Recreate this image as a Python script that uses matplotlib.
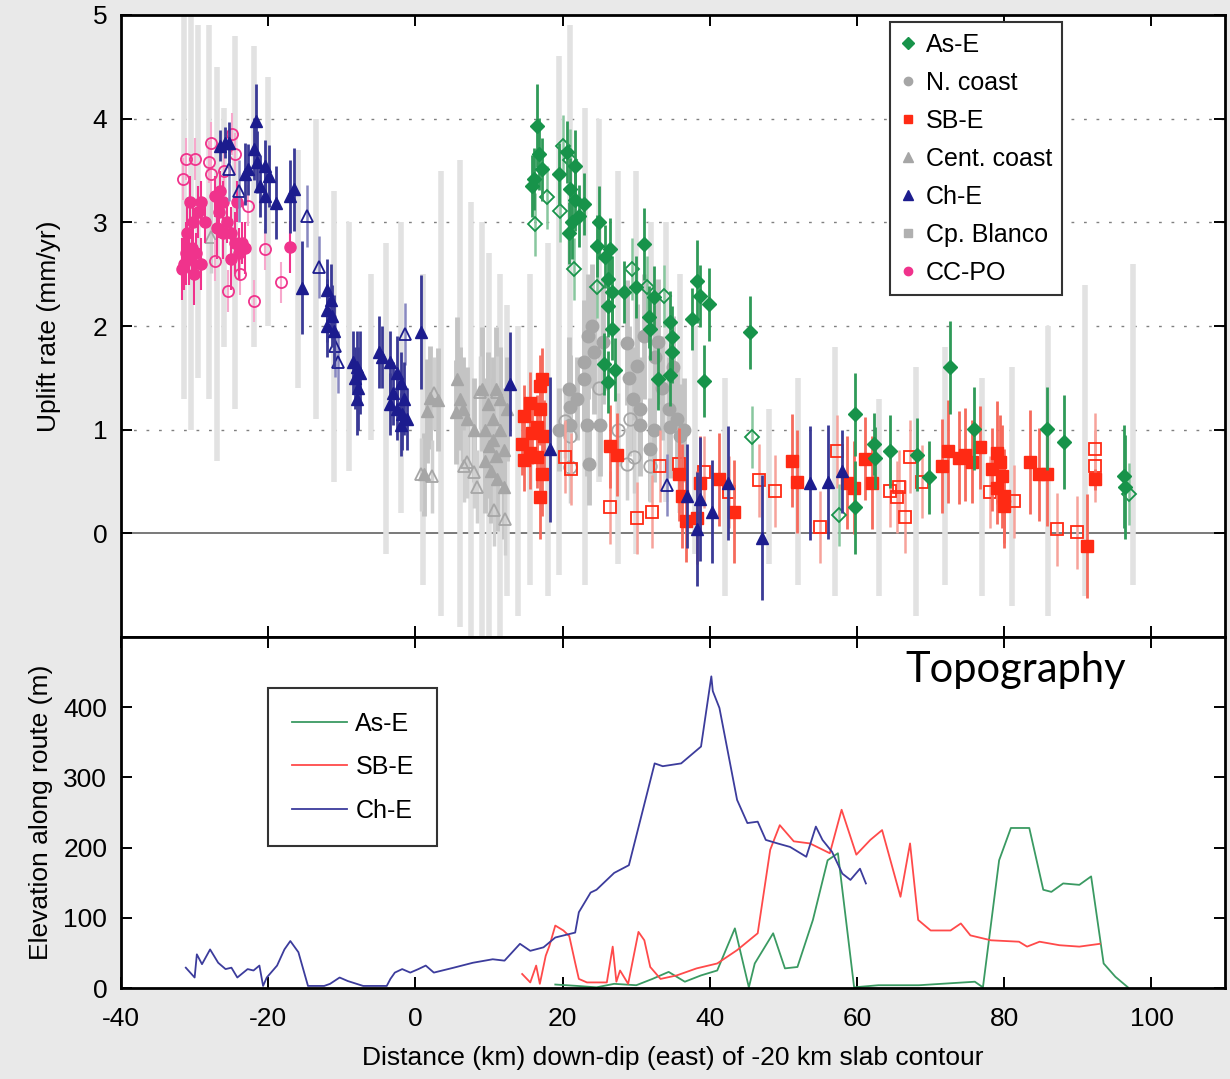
import numpy as np
import matplotlib
matplotlib.use('Agg')
import matplotlib.pyplot as plt
from matplotlib.lines import Line2D

plt.rcParams['font.family'] = ['Liberation Sans', 'DejaVu Sans']
plt.rcParams['axes.unicode_minus'] = False

# ---- uplift rates (km, mm/yr, +/- err) ----
# As-E
ase_x = [16.5, 16.8, 17.2, 16.1, 15.9, 19.5, 20.6, 21.7, 21.0, 21.7, 22.9, 21.3, 20.9, 22.2, 25.0, 24.7, 25.8, 26.5,
         26.1, 26.7, 26.1, 26.7, 25.6, 27.1, 26.1, 28.4, 31.0, 29.9, 32.4, 31.7, 31.9, 34.6, 34.9, 34.9, 34.6, 32.9,
         38.3, 38.6, 39.9, 37.6, 39.2, 45.5, 59.7, 62.3, 62.4, 64.5, 68.1, 69.8, 59.7, 72.6, 75.9, 85.8, 88.1, 96.2, 96.4]
ase_y = [3.93, 3.66, 3.51, 3.42, 3.35, 3.47, 3.68, 3.54, 3.32, 3.22, 3.18, 3.0, 2.9, 3.06, 3.0, 2.77, 2.67, 2.74,
         2.45, 2.33, 2.19, 1.97, 1.63, 1.58, 1.46, 2.33, 2.79, 2.38, 2.28, 2.09, 1.97, 2.04, 1.89, 1.75, 1.53, 1.49,
         2.43, 2.29, 2.21, 2.07, 1.47, 1.94, 1.15, 0.86, 0.73, 0.79, 0.76, 0.54, 0.25, 1.6, 1.01, 1.01, 0.88, 0.55, 0.45]
ase_e = [0.4, 0.35, 0.3, 0.3, 0.3, 0.3, 0.3, 0.35, 0.3, 0.3, 0.3, 0.35, 0.3, 0.3, 0.35, 0.3, 0.3, 0.3,
         0.3, 0.35, 0.3, 0.3, 0.3, 0.3, 0.3, 0.3, 0.35, 0.3, 0.3, 0.3, 0.3, 0.3, 0.3, 0.3, 0.3, 0.3,
         0.4, 0.3, 0.35, 0.3, 0.35, 0.35, 0.4, 0.3, 0.3, 0.35, 0.35, 0.35, 0.45, 0.45, 0.4, 0.4, 0.45, 0.5, 0.5]
ase_open_x = [16.3, 17.9, 20.0, 19.7, 21.5, 29.4, 31.5, 24.7, 33.8, 45.7, 57.6, 97.0, 21.0]
ase_open_y = [2.98, 3.24, 3.74, 3.11, 2.55, 2.55, 2.38, 2.38, 2.29, 0.93, 0.18, 0.38, 3.6]

# SB-E
sbe_x = [17.2, 16.9, 15.6, 16.9, 14.8, 16.5, 17.5, 14.5, 15.6, 14.8, 16.5, 17.2, 16.9, 15.9, 26.5, 27.4, 35.8, 36.2,
         36.7, 38.3, 38.6, 41.3, 43.3, 51.2, 51.9, 58.6, 59.6, 61.1, 62.0, 71.5, 72.4, 73.8, 74.6, 75.6, 76.7, 78.3,
         79.0, 79.4, 79.7, 79.9, 79.0, 79.9, 83.5, 84.7, 85.8, 92.3, 91.2]
sbe_y = [1.49, 1.42, 1.26, 1.2, 1.13, 1.03, 0.94, 0.86, 0.78, 0.71, 0.74, 0.57, 0.35, 0.97, 0.84, 0.76, 0.57, 0.36,
         0.12, 0.15, 0.49, 0.52, 0.21, 0.7, 0.5, 0.49, 0.44, 0.72, 0.49, 0.65, 0.79, 0.73, 0.76, 0.69, 0.83, 0.62,
         0.78, 0.69, 0.55, 0.36, 0.44, 0.26, 0.69, 0.57, 0.57, 0.52, -0.12]
sbe_e = [0.3, 0.3, 0.3, 0.35, 0.3, 0.3, 0.35, 0.3, 0.35, 0.3, 0.3, 0.4, 0.4, 0.3, 0.4, 0.4, 0.45, 0.5,
         0.4, 0.45, 0.45, 0.45, 0.5, 0.45, 0.5, 0.45, 0.45, 0.4, 0.45, 0.45, 0.5, 0.45, 0.45, 0.4, 0.4, 0.4,
         0.5, 0.45, 0.5, 0.45, 0.35, 0.4, 0.5, 0.45, 0.5, 0.1, 0.5]
sbe_open_x = [20.3, 21.2, 26.5, 30.1, 32.2, 33.2, 35.8, 39.2, 42.6, 46.7, 48.9, 55.0, 57.3, 64.5, 65.7, 65.4,
              66.5, 67.2, 68.8, 78.1, 81.3, 87.2, 89.9, 92.3, 92.3]
sbe_open_y = [0.74, 0.62, 0.25, 0.15, 0.21, 0.65, 0.67, 0.59, 0.40, 0.51, 0.41, 0.06, 0.79, 0.41, 0.45, 0.35,
              0.16, 0.74, 0.5, 0.4, 0.31, 0.04, 0.01, 0.81, 0.65]

# Ch-E
che_x = [-21.7, -25.9, -26.5, -25.3, -23.1, -21.9, -21.5, -20.5, -19.9, -21.1, -20.5, -19.0, -17.0, -16.5, -22.8,
         -15.4, -12.0, -11.5, -12.0, -11.3, -12.0, -11.0, -8.5, -8.0, -7.5, -8.2, -7.8, -8.0, -5.0, -4.5, -3.5,
         -2.5, -2.0, -3.0, -1.5, -2.5, -1.8, -1.2, -3.5, -2.0, 0.7, 12.9, 18.3, 36.9, 38.3, 38.7, 40.3, 42.4,
         47.1, 53.6, 56.0, 58.0]
che_y = [3.98, 3.77, 3.74, 3.77, 3.47, 3.71, 3.58, 3.54, 3.45, 3.35, 3.25, 3.19, 3.25, 3.32, 3.51,
         2.37, 2.35, 2.25, 2.15, 2.1, 2.0, 1.95, 1.65, 1.6, 1.55, 1.5, 1.4, 1.3, 1.75, 1.7, 1.65,
         1.55, 1.45, 1.35, 1.3, 1.2, 1.15, 1.1, 1.25, 1.05, 1.94, 1.44, 0.81, 0.36, 0.04, 0.33, 0.21, 0.49,
         -0.04, 0.49, 0.5, 0.6]
che_e = [0.35, 0.15, 0.15, 0.2, 0.3, 0.3, 0.3, 0.25, 0.3, 0.3, 0.35, 0.35, 0.35, 0.4, 0.25,
         0.45, 0.3, 0.35, 0.3, 0.3, 0.3, 0.35, 0.3, 0.35, 0.4, 0.3, 0.4, 0.35, 0.35, 0.3, 0.3,
         0.35, 0.3, 0.3, 0.35, 0.3, 0.35, 0.3, 0.3, 0.3, 0.55, 0.5, 0.7, 0.5, 0.55, 0.6, 0.5, 0.55,
         0.6, 0.55, 0.55, 0.4]
che_open_x = [-25.3, -14.7, -13.1, -10.9, -1.4, 34.2, -24.0, -10.5]
che_open_y = [3.51, 3.06, 2.57, 1.81, 1.92, 0.47, 3.3, 1.65]

# CC-PO
ccpo_x = [-31.5, -31.2, -30.8, -30.3, -29.8, -31.0, -30.2, -29.6, -29.1, -30.6, -31.7, -29.2, -30.1, -28.6,
          -27.2, -26.7, -26.1, -27.0, -26.2, -25.6, -25.0, -24.5, -24.0, -23.5, -23.1, -25.0, -24.2, -26.6, -17.0]
ccpo_y = [2.6, 2.7, 2.65, 2.75, 2.7, 2.9, 3.0, 3.1, 3.2, 3.2, 2.55, 2.6, 2.5, 3.0,
          3.25, 3.1, 3.2, 2.95, 2.9, 3.0, 2.9, 2.8, 2.7, 2.8, 2.75, 2.65, 3.2, 3.3, 2.76]
ccpo_e = [0.25, 0.3, 0.25, 0.3, 0.2, 0.3, 0.2, 0.25, 0.2, 0.25, 0.3, 0.25, 0.3, 0.2,
          0.2, 0.25, 0.2, 0.3, 0.25, 0.2, 0.25, 0.3, 0.25, 0.2, 0.25, 0.3, 0.2, 0.2, 0.25]
ccpo_open_x = [-27.8, -31.2, -30.0, -28.0, -31.6, -27.8, -24.9, -24.5, -20.4, -27.2, -25.5, -21.9, -18.3,
               -23.9, -22.8, -29.5, -26.0]
ccpo_open_y = [3.77, 3.61, 3.61, 3.58, 3.42, 3.47, 3.85, 3.66, 2.74, 2.63, 2.34, 2.24, 2.42,
               2.5, 3.16, 3.15, 3.5]

# N. coast
nco_x = [21.0, 23.3, 23.6, 25.1, 28.8, 30.1, 31.9, 32.4, 34.6, 36.0, 22.9, 24.3, 21.0, 20.9, 22.9, 23.5,
         24.0, 25.5, 29.5, 30.5, 31.0, 32.5, 33.5, 34.5, 35.5, 29.0, 33.0, 35.0, 19.5, 22.0, 36.5, 30.5]
nco_y = [1.22, 1.05, 0.67, 1.05, 1.84, 1.61, 0.81, 1.0, 1.03, 0.94, 1.65, 1.75, 1.05, 1.39, 1.49, 1.9,
         2.0, 1.85, 1.3, 1.2, 1.9, 1.7, 1.4, 1.2, 1.1, 1.5, 1.85, 1.6, 1.0, 1.3, 1.0, 1.05]
nco_e = [0.5, 0.5, 0.4, 0.5, 0.6, 0.6, 0.5, 0.5, 0.5, 0.5, 0.6, 0.6, 0.5, 0.5, 0.5, 0.6,
         0.6, 0.6, 0.5, 0.5, 0.6, 0.5, 0.5, 0.5, 0.5, 0.5, 0.6, 0.5, 0.4, 0.4, 0.5, 0.5]
nco_open_x = [20.3, 21.0, 21.0, 29.2, 28.8, 29.7, 31.9, 25.0, 27.5]
nco_open_y = [1.08, 0.94, 0.64, 1.1, 0.67, 0.74, 0.65, 1.4, 1.0]

# Cent. coast
cco_x = [2.0, 1.6, 3.0, 5.7, 5.5, 9.1, 10.0, 10.9, 11.1, 6.0, 6.5, 7.0, 9.5, 10.5, 11.0, 9.5, 10.2, 12.0,
         12.5, 11.5, 1.2, 8.0, 10.5, 9.8, 11.5, 12.0]
cco_y = [1.31, 1.18, 1.29, 1.49, 1.17, 1.39, 0.84, 1.39, 0.52, 1.3, 1.2, 1.1, 1.0, 0.9, 0.75, 0.7, 0.6, 0.45,
         1.2, 1.3, 0.57, 1.0, 1.1, 1.25, 1.0, 0.8]
cco_e = [0.5, 0.5, 0.5, 0.6, 0.5, 0.6, 0.5, 0.6, 0.5, 0.5, 0.5, 0.5, 0.5, 0.6, 0.6, 0.5, 0.5, 0.5,
         0.5, 0.5, 0.4, 0.5, 0.6, 0.5, 0.5, 0.6]
cco_open_x = [0.7, 2.3, 7.0, 8.0, 8.4, 12.2, 6.6, 10.7, 2.5, 8.8, 11.1, -27.8]
cco_open_y = [0.57, 0.55, 0.69, 0.59, 0.45, 0.14, 0.65, 0.23, 1.35, 1.36, 1.36, 2.86]

# Cp. Blanco (wide light bars)
cpb_x = [-31.5, -30.5, -29.5, -28.0, -27.0, -26.0, -24.5, -22.0, -20.0, -16.0, -13.5, -11.0, -9.0, -6.0, -4.0,
         -2.0, 1.0, 3.5, 6.0, 7.5, 9.0, 10.0, 11.5, 12.5, 14.0, 15.5, 18.0, 19.5, 21.0, 23.0, 25.0, 27.5, 30.0,
         32.0, 34.0, 36.0, 38.0, 42.0, 48.0, 52.0, 57.0, 63.0, 68.0, 72.0, 77.0, 81.0, 86.0, 91.0, 97.5]
cpb_y = [3.15, 3.0, 3.2, 3.1, 2.6, 2.95, 3.0, 3.25, 3.2, 2.55, 2.55, 1.9, 1.8, 1.7, 1.3,
         1.6, 1.0, 1.35, 1.35, 1.1, 1.0, 0.85, 0.75, 0.8, 0.6, 1.0, 1.1, 2.1, 2.75, 1.8, 2.25, 1.6, 1.65,
         1.75, 1.65, 1.35, 0.9, 0.45, 0.45, 0.5, 0.6, 0.35, 0.4, 0.65, 0.45, 0.45, 0.6, 0.9, 1.05]
cpb_e = [1.85, 2.0, 1.7, 1.8, 1.9, 1.15, 1.8, 1.45, 1.2, 1.15, 1.45, 1.4, 1.2, 0.8, 1.5,
         1.4, 1.5, 2.15, 2.25, 2.1, 2.0, 1.85, 1.75, 1.4, 1.4, 1.5, 1.7, 2.5, 2.15, 2.3, 1.75, 1.9, 1.85,
         1.25, 1.35, 1.15, 1.1, 1.05, 0.75, 1.0, 1.2, 0.95, 1.2, 1.15, 1.05, 1.15, 1.4, 1.5, 1.55]

# ---- topography along routes (km, m) ----
topo_ch_x = [-31.2, -30.0, -29.7, -29.0, -27.9, -26.8, -25.8, -25.0, -24.2, -22.8, -22.0, -21.2, -20.7, -20.2,
             -18.8, -17.8, -17.0, -15.9, -14.6, -12.4, -11.6, -10.3, -9.2, -7.1, -3.9, -3.4, -2.8, -1.8, -0.7,
             0.4, 1.4, 2.5, 5.2, 7.8, 10.5, 12.1, 14.2, 15.6, 17.4, 19.0, 21.7, 22.2, 23.8, 24.6, 27.0, 29.0,
             32.5, 33.6, 36.1, 38.8, 40.2, 40.4, 41.3, 43.7, 45.1, 46.5, 47.6, 49.2, 50.9, 53.1, 54.4, 55.3,
             56.6, 58.0, 59.1, 60.4, 61.2]
topo_ch_y = [29, 15, 48, 34, 55, 36, 27, 29, 15, 27, 25, 32, 3, 15,
             32, 55, 67, 51, 3, 3, 6, 15, 10, 3, 3, 13, 22, 27, 22,
             27, 32, 22, 29, 36, 41, 39, 63, 53, 58, 72, 79, 108, 136, 140, 164, 175,
             320, 316, 320, 344, 444, 423, 399, 268, 235, 237, 211, 206, 201, 187, 230, 211,
             194, 163, 154, 170, 149]
topo_sb_x = [14.5, 15.6, 16.4, 16.9, 17.7, 18.2, 19.0, 20.1, 20.9, 21.7, 22.2, 23.3, 26.0, 26.8, 27.3, 27.8,
             28.9, 30.3, 31.1, 31.9, 33.3, 35.5, 38.2, 41.0, 43.7, 46.5, 48.2, 49.5, 51.4, 53.6, 56.3, 57.9,
             59.9, 61.8, 63.4, 65.9, 67.2, 68.3, 70.0, 72.7, 74.1, 75.4, 78.2, 82.0, 83.1, 84.8, 87.5, 90.2, 93.0]
topo_sb_y = [20, 8, 32, 6, 46, 60, 89, 82, 74, 36, 13, 8, 8, 59, 9, 25,
             6, 80, 68, 30, 13, 18, 28, 35, 54, 78, 197, 232, 209, 206, 192, 254,
             190, 211, 225, 130, 206, 97, 82, 82, 92, 75, 68, 66, 59, 66, 61, 59, 63]
topo_as_x = [19.0, 22.0, 24.6, 27.0, 30.0, 32.2, 34.4, 36.6, 38.8, 41.0, 43.4, 45.3, 46.1, 48.6, 50.2, 51.9,
             54.0, 56.0, 57.4, 59.6, 62.9, 68.4, 76.0, 77.1, 79.3, 80.9, 83.4, 85.3, 86.4, 88.0, 90.2, 91.8,
             93.5, 95.1, 96.8]
topo_as_y = [5, 3, 1, 6, 4, 13, 23, 9, 18, 25, 85, 1, 35, 78, 28, 30,
             97, 182, 192, 1, 4, 4, 9, 1, 182, 228, 228, 140, 137, 149, 147, 159,
             35, 16, 1]

green = '#17934a'
red = '#ff2a14'
navy = '#1c1c8e'
pink = '#f0338c'
gray = '#a6a6a6'

fig = plt.figure(figsize=(12.3, 10.79), dpi=100, facecolor='#e9e9e9')
ax1 = fig.add_axes([0.0984, 0.4096, 0.8976, 0.5765])
ax2 = fig.add_axes([0.0984, 0.0843, 0.8976, 0.3253])


def series(ax, x, y, e, marker, color, ecolor, ms, open_=False, z=3, elw=2.0):
    if e is not None:
        ax.errorbar(x, y, yerr=e, fmt='none', ecolor=ecolor, elinewidth=elw, capsize=0, zorder=z - 0.5)
    if open_:
        ax.plot(x, y, ls='none', marker=marker, ms=ms, mfc='none', mec=color, mew=1.3, zorder=z)
    else:
        ax.plot(x, y, ls='none', marker=marker, ms=ms, mfc=color, mec=color, zorder=z)


# background bars
ax1.errorbar(cpb_x, cpb_y, yerr=cpb_e, fmt='none', ecolor='#e2e2e2', elinewidth=4.0, capsize=0, zorder=1)

series(ax1, cco_x, cco_y, cco_e, '^', gray, '#c4c4c4', 9, z=2, elw=3.5)
series(ax1, cco_open_x, cco_open_y, [0.35] * len(cco_open_x), '^', gray, '#d0d0d0', 9, open_=True, z=2, elw=2.5)
series(ax1, nco_x, nco_y, nco_e, 'o', gray, '#c4c4c4', 9, z=2, elw=3.5)
series(ax1, nco_open_x, nco_open_y, [0.35] * len(nco_open_x), 'o', gray, '#d0d0d0', 9, open_=True, z=2, elw=2.5)

series(ax1, ccpo_open_x, ccpo_open_y, [0.2] * len(ccpo_open_x), 'o', pink, '#f7a8cc', 8, open_=True, z=3, elw=1.5)
series(ax1, ccpo_x, ccpo_y, ccpo_e, 'o', pink, pink, 8, z=3, elw=1.5)
series(ax1, sbe_open_x, sbe_open_y, [0.35] * len(sbe_open_x), 's', red, '#f7a29a', 8, open_=True, z=3, elw=1.8)
series(ax1, sbe_x, sbe_y, sbe_e, 's', red, '#f66a5c', 8, z=4, elw=2.0)
series(ax1, ase_open_x, ase_open_y, [0.3] * len(ase_open_x), 'D', green, '#88c79e', 7, open_=True, z=4, elw=1.8)
series(ax1, ase_x, ase_y, ase_e, 'D', green, '#2f9a58', 7, z=5, elw=2.0)
series(ax1, che_open_x, che_open_y, [0.3] * len(che_open_x), '^', navy, '#8888c0', 9, open_=True, z=4, elw=1.8)
series(ax1, che_x, che_y, che_e, '^', navy, '#3a3a96', 9, z=5, elw=2.0)

for g in [1, 2, 3, 4]:
    ax1.axhline(g, color='#808080', ls=(0, (2, 7)), lw=1.0, zorder=0.5)
ax1.axhline(0, color='#555555', lw=1.1, zorder=0.6)

ax1.set_xlim(-40, 110)
ax1.set_ylim(-1, 5)
ax1.set_yticks([0, 1, 2, 3, 4, 5])
ax1.set_xticks([-20, 0, 20, 40, 60, 80, 100])
ax1.tick_params(labelbottom=False)
ax1.set_ylabel('Uplift rate (mm/yr)', fontsize=19)
ax1.yaxis.set_label_coords(-0.054, 0.5)

leg_handles = [
    Line2D([], [], ls='none', marker='D', ms=6, color=green),
    Line2D([], [], ls='none', marker='o', ms=6, color=gray),
    Line2D([], [], ls='none', marker='s', ms=6, color=red),
    Line2D([], [], ls='none', marker='^', ms=7, color=gray),
    Line2D([], [], ls='none', marker='^', ms=7, color=navy),
    Line2D([], [], ls='none', marker='s', ms=6, color='#b0b0b0'),
    Line2D([], [], ls='none', marker='o', ms=6, color=pink),
]
leg_labels = ['As-E', 'N. coast', 'SB-E', 'Cent. coast', 'Ch-E', 'Cp. Blanco', 'CC-PO']
leg1 = ax1.legend(leg_handles, leg_labels, loc='upper left', bbox_to_anchor=(0.6966, 0.9887), fontsize=18,
                  handlelength=0.6, handletextpad=0.4, labelspacing=0.56, borderpad=0.42, borderaxespad=0,
                  fancybox=False, framealpha=1, edgecolor='#333333')
leg1.get_frame().set_linewidth(1.5)
leg1.set_zorder(10)

# topography
ax2.plot(topo_as_x, topo_as_y, color='#3a9a62', lw=1.3, label='As-E')
ax2.plot(topo_sb_x, topo_sb_y, color='#ff4a4a', lw=1.3, label='SB-E')
ax2.plot(topo_ch_x, topo_ch_y, color='#3c3c9c', lw=1.3, label='Ch-E')
ax2.set_xlim(-40, 110)
ax2.set_ylim(0, 500)
ax2.set_xticks([-40, -20, 0, 20, 40, 60, 80, 100])
ax2.set_yticks([0, 100, 200, 300, 400])
ax2.set_xlabel('Distance (km) down-dip (east) of -20 km slab contour', fontsize=19)
ax2.xaxis.set_label_coords(0.5, -0.165)
ax2.set_ylabel('Elevation along route (m)', fontsize=19)
ax2.yaxis.set_label_coords(-0.062, 0.5)
leg2 = ax2.legend(loc='upper left', bbox_to_anchor=(0.133, 0.855), fontsize=18, handlelength=2.2,
                  handletextpad=0.35, labelspacing=0.78, borderpad=0.95, borderaxespad=0, fancybox=False,
                  framealpha=1, edgecolor='#333333')
leg2.get_frame().set_linewidth(1.5)
ax2.text(0.81, 0.905, 'Topography', transform=ax2.transAxes, fontsize=30, ha='center', va='center',
         family=['Lato', 'DejaVu Sans'])

for ax in (ax1, ax2):
    ax.tick_params(direction='in', top=True, right=True, length=8, width=1.4, labelsize=19)
    ax.tick_params(axis='y', pad=10)
    ax.tick_params(axis='x', pad=14)
    for s in ax.spines.values():
        s.set_linewidth(2.0)

fig.savefig('out.png', dpi=100, facecolor=fig.get_facecolor())
